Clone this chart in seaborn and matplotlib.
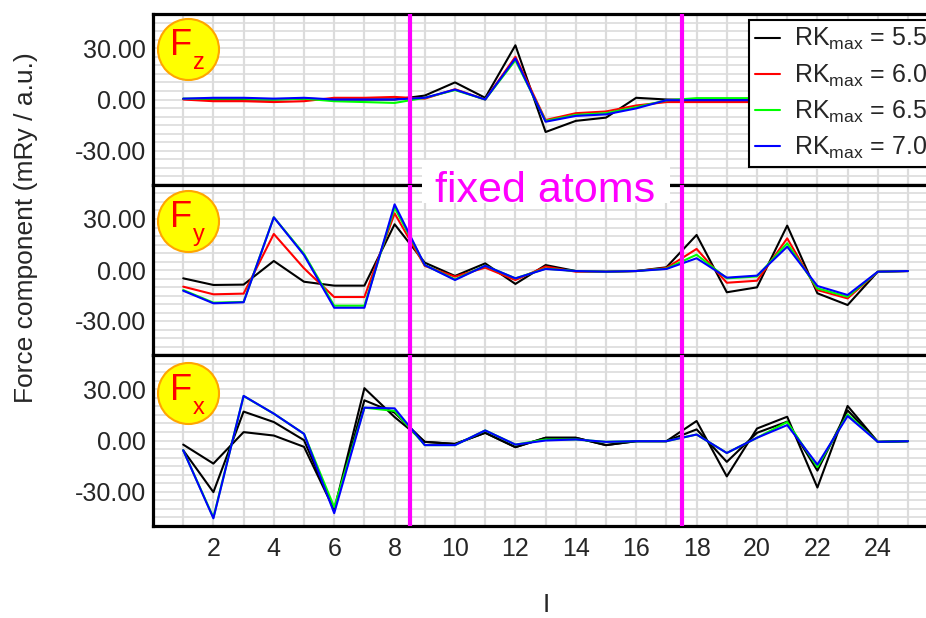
import matplotlib
matplotlib.use("Agg")
import numpy as np
import pandas as pd
import matplotlib.pyplot as plt
import matplotlib.transforms as mtransforms
import seaborn as sns
from matplotlib.ticker import MultipleLocator, FixedLocator, FormatStrFormatter
from matplotlib.patches import Rectangle

# ---------------- data ----------------
atoms = list(range(1, 26))
rk_values = ["5.5", "6.0", "6.5", "7.0"]
fixed_bounds = [8.5, 17.5]
y_ticks = [-30, 0, 30]
x_ticks = [2, 4, 6, 8, 10, 12, 14, 16, 18, 20, 22, 24]
panel_names = ["z", "y", "x"]

fz_55 = [0.3, 0, 0, 0, 0.5, 0, 0, 0, 2.3, 10, 1, 31.7, -19, -12.5, -10.6, 1, 0, -0.2, 0, 0, 0, 0, 0, 0, 0]
fz_60 = [0, -1, -1, -1.5, -1, 1, 1, 1.5, 0.5, 6, 0, 25, -12, -8, -7, -3.5, -1.5, -1.5, -1.5, -1.5, -1.5, -1.5, -1.5, -1.5, -1.5]
fz_65 = [0.5, 0.5, 0.5, 0, 0.5, -1, -1.5, -2, 1, 5.5, 0, 23, -12.5, -9, -8, -4.5, -0.5, 0.8, 0.8, 0.8, 0.8, 0.8, 0.8, 0.8, 0.8]
fz_70 = [0.5, 1, 1, 0.5, 1, 0, 0, 0, 1, 5.8, 0, 24, -13, -9.6, -8.7, -5.2, -0.4, -0.4, -0.4, -0.4, -0.4, -0.4, -0.4, -0.4, -0.4]

fy_55 = [-4.9, -8.8, -8.6, 5.3, -6.9, -9.2, -9.2, 26.9, 4.3, -3.5, 3.9, -8.2, 2.9, -0.6, -1, -0.6, 1.6, 20.6, -13.1, -10.2, 26.1, -13.7, -20.6, -1, -0.6]
fy_60 = [-9.8, -14.3, -13.9, 21.2, 1, -15.9, -15.9, 33.3, 2.4, -3.9, 1.4, -5.9, 2, -1, -1, -0.6, 1.2, 12.4, -7.5, -6.3, 18.6, -11.8, -16.7, -1, -0.6]
fy_65 = [-11.8, -19.2, -18.8, 31, 9.5, -21, -21, 36.7, 2.9, -5.5, 2.5, -4.9, 0.8, -0.6, -1, -0.6, 0.8, 9, -4.9, -3.8, 15.7, -10.8, -15.7, -1, -0.6]
fy_70 = [-12.2, -19.6, -19, 31, 8.8, -22.2, -22.2, 38.6, 2.9, -5.9, 2.5, -4.9, 0.6, -0.6, -1, -0.6, 0.6, 6.9, -4.5, -3.3, 13.7, -9.4, -14.7, -1, -0.6]

fx_55 = [-2.4, -13.5, 4.9, 2.9, -3.7, -40.6, 30.6, 13.7, -0.8, -2, 4.5, -3.9, 1.6, 1.6, -2.7, -0.4, -0.4, 11.4, -21, 7, 13.9, -27.5, 20.2, -0.8, -0.4]
fx_60 = [-5.7, -30.2, 16.9, 10.8, 0.2, -40.6, 23.5, 16.3, -0.8, -2, 4.5, -3.9, 1.6, 1.6, -2.7, -0.4, -0.4, 6.5, -12.5, 4.5, 11, -17.6, 17.6, -0.8, -0.4]
fx_65 = [-5.7, -45, 26, 15.7, 3.9, -39, 19.2, 17.3, -2.7, -2.7, 5.9, -2.4, 0.6, 0.6, -0.8, -0.4, -0.4, 3.5, -7.3, 1.6, 10.8, -15.5, 15.3, -0.8, -0.4]
fx_70 = [-5.7, -45.5, 26.1, 15.7, 3.9, -42.5, 19.2, 18.8, -2.7, -2.7, 5.9, -2.4, 0, 0.6, -0.8, -0.4, -0.4, 3.5, -7.3, 1.6, 9, -14.1, 14.3, -0.8, -0.4]

panels = [
    [fz_55, fz_60, fz_65, fz_70],
    [fy_55, fy_60, fy_65, fy_70],
    [fx_55, fx_60, fx_65, fx_70],
]
series_colors = ["#000000", "#ff0000", "#00ff00", "#0000ff"]
# in the Fx panel the 6.0 curve is drawn in black in the reference
panel_colors = [series_colors, series_colors, ["#000000", "#000000", "#00ff00", "#0000ff"]]

# ---------------- style ----------------
sns.set_style("white")
plt.rcParams["font.family"] = ["Liberation Sans", "DejaVu Sans"]
plt.rcParams["mathtext.fontset"] = "custom"
plt.rcParams["mathtext.rm"] = "Liberation Sans"
plt.rcParams["mathtext.it"] = "Liberation Sans"
plt.rcParams["mathtext.default"] = "regular"

W, H = 926, 618
fig = plt.figure(figsize=(W / 100, H / 100), dpi=100)

left_px = 153
x_max = 26
px_per_unit = 30.2
right_px = left_px + x_max * px_per_unit
panel_px = [(14, 185), (185, 355), (355, 526)]

def label_for(v):
    return r"RK$_{\mathrm{max}}$ = " + v

axes = []
for i, (top, bot) in enumerate(panel_px):
    ax = fig.add_axes([left_px / W, 1 - bot / H, (right_px - left_px) / W, (bot - top) / H])
    axes.append(ax)
    rows = []
    for v, vals in zip(rk_values, panels[i]):
        for a, f in zip(atoms, vals):
            rows.append({"atom": a, "force": f, "RK": label_for(v)})
    df = pd.DataFrame(rows)
    pal = {label_for(v): c for v, c in zip(rk_values, panel_colors[i])}
    sns.lineplot(data=df, x="atom", y="force", hue="RK", palette=pal,
                 hue_order=[label_for(v) for v in rk_values],
                 estimator=None, sort=False, linewidth=1.5, ax=ax,
                 legend=(i == 0), zorder=3)
    ax.set_xlim(0, x_max)
    ax.set_ylim(-50, 50)
    ax.set_xlabel("")
    ax.set_ylabel("")
    ax.yaxis.set_major_locator(FixedLocator(y_ticks))
    ax.yaxis.set_major_formatter(FormatStrFormatter("%.2f"))
    ax.yaxis.set_minor_locator(MultipleLocator(5))
    ax.xaxis.set_major_locator(FixedLocator(x_ticks))
    ax.xaxis.set_minor_locator(MultipleLocator(1))
    ax.grid(which="both", axis="x", color="#dcdcdc", linewidth=1.6, zorder=0)
    ax.grid(which="both", axis="y", color="#dcdcdc", linewidth=1.2, zorder=0)
    ax.set_axisbelow(True)
    ax.tick_params(which="both", length=0)
    ax.tick_params(axis="y", labelsize=18, pad=5)
    if i < 2:
        ax.tick_params(axis="x", labelbottom=False)
    else:
        ax.tick_params(axis="x", labelsize=18, pad=8)
    for s in ax.spines.values():
        s.set_linewidth(2.3)
        s.set_color("black")
    for xb in fixed_bounds:
        ax.axvline(xb, color="#ff00ff", linewidth=3, zorder=4)

    # panel badge (yellow disc with red F_sub)
    cy = [-34.5, -36, -38][i]
    badge_tr = ax.transAxes + mtransforms.ScaledTranslation(34.5 / 100, cy / 100, fig.dpi_scale_trans)
    ax.scatter([0], [1], s=1930, facecolor="#ffff00", edgecolor="#ffa500",
               linewidth=1.5, zorder=6, clip_on=False, transform=badge_tr)
    ax.annotate("F", xy=(0, 1), xycoords="axes fraction", xytext=(28, cy - 6.5),
                textcoords="offset pixels", ha="center", va="baseline",
                fontsize=26, color="#ff0000", zorder=7)
    ax.annotate(panel_names[i], xy=(0, 1), xycoords="axes fraction", xytext=(45.5, cy - 20.5),
                textcoords="offset pixels", ha="center", va="baseline",
                fontsize=17, color="#ff0000", zorder=7)

# legend
sns.move_legend(axes[0], "upper left", bbox_to_anchor=(749 / W, 1 - 20 / H),
                bbox_transform=fig.transFigure, title=None, fontsize=18,
                frameon=True, fancybox=False, edgecolor="black", framealpha=1,
                borderpad=0.25, labelspacing=0.4, handlelength=1.0,
                handletextpad=0.55, borderaxespad=0)
leg = axes[0].get_legend()
leg.get_frame().set_linewidth(1.5)
leg.set_zorder(10)

# "fixed atoms" label
fig.add_artist(Rectangle((422 / W, 1 - 203 / H), 248 / W, 43 / H, transform=fig.transFigure,
                         facecolor="white", edgecolor="none", zorder=20))
fig.text(545.5 / W, 1 - 201.5 / H, "fixed atoms", ha="center", va="baseline",
         fontsize=31, color="#ff00ff", zorder=21)

# axis labels
fig.text(26 / W, 1 - 228 / H, "Force component (mRy / a.u.)", rotation=90,
         ha="center", va="center", fontsize=19)
fig.text(546 / W, 0.5 / H, "I", ha="center", va="bottom", fontsize=19)

fig.savefig("out.png", dpi=100)
